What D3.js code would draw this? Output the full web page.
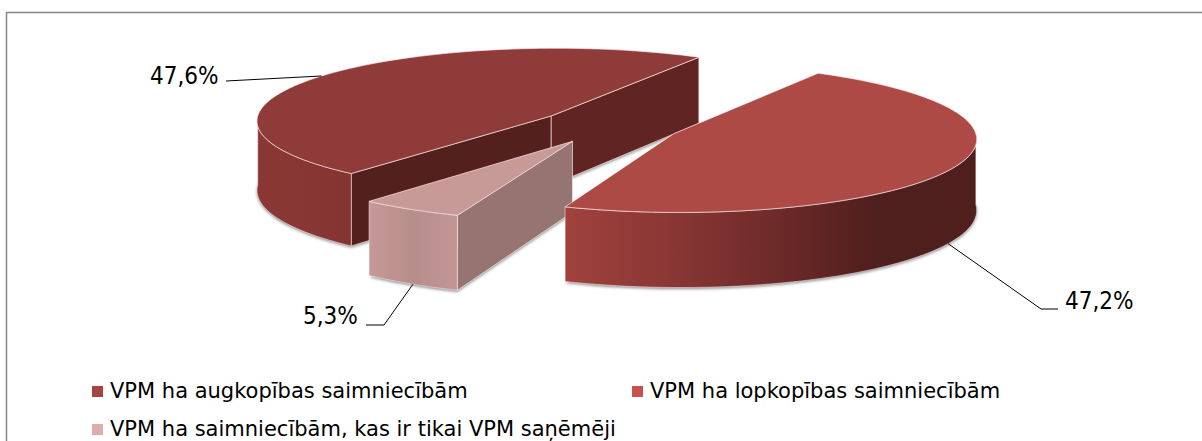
<!DOCTYPE html>
<html lang="lv">
<head>
<meta charset="utf-8">
<title>VPM ha</title>
<script src="https://cdn.jsdelivr.net/npm/d3@7"></script>
<style>
 body { margin: 0; background: #fff; }
 svg { display: block; }
 text { fill: #000; }
 .label { font-family: "DejaVu Sans Condensed", "DejaVu Sans", sans-serif; font-size: 24px; }
 .legend { font-family: "DejaVu Sans", sans-serif; font-size: 21px; }
</style>
</head>
<body>
<div id="graph"></div>
<script>
// Data
const categories = ["VPM ha augkopības saimniecībām", "VPM ha lopkopības saimniecībām", "VPM ha saimniecībām, kas ir tikai VPM saņēmēji"];
const values = [47.6, 47.2, 5.3];
const valueLabels = ["47,6%", "47,2%", "5,3%"];

// Colours of each slice
const topColors = ["#8f3b39", "#ae4a46", "#c79a98"];
const legendColors = ["#a54441", "#c9504c", "#e0abab"];
const wallStops = [["#8b3835", "#843431"], ["#a0423e", "#8a3735", "#6f2b2a", "#4f1f1d", "#4f1f1d"], ["#c59997", "#b78e8b", "#c29695"]];
const faceColors = [["#54201e", "#602522"], [null, null], ["#967471", null]];

const width = 1202, height = 441;

// 3D look of the pie: ellipse radii, perspective, extrusion, explode distance
const cx = 609, cy = 126, rx = 298, ry = 73, perspV = 0.06, perspU = 0.005, depth = 70, explode = 0.24;
const startDeg = 219.8;
const rad = Math.PI / 180;

function project(u, v, z) {
    const w = 1 + perspV * v - perspU * u;
    return [cx + rx * u / w, cy - ry * v / w + z * depth / w];
}

const pie = d3.pie().sort(null).startAngle(startDeg * rad).endAngle(startDeg * rad + 2 * Math.PI);
const slices = pie(values);
const line = d3.line();

function slicePoint(d, a, r, z) {
    const mid = (d.startAngle + d.endAngle) / 2;
    const u = explode * Math.sin(mid) + r * Math.sin(a);
    const v = explode * Math.cos(mid) + r * Math.cos(a);
    return project(u, v, z);
}

function arcPoints(d, a0, a1, z) {
    const n = Math.max(2, Math.ceil((a1 - a0) / (2 * rad)));
    return d3.range(n + 1).map(i => slicePoint(d, a0 + (a1 - a0) * i / n, 1, z));
}

const svg = d3.select("#graph").append("svg").attr("width", width).attr("height", height);
const defs = svg.append("defs");
defs.append("filter").attr("id", "soft").attr("x", "-10%").attr("y", "-10%").attr("width", "120%").attr("height", "120%")
    .append("feGaussianBlur").attr("stdDeviation", 1.6);

// Frame, runs off the right and bottom of the picture
svg.append("rect").attr("x", 6.5).attr("y", 12.5).attr("width", 1300).attr("height", 460)
    .attr("fill", "#fff").attr("stroke", "#868686").attr("stroke-width", 1.5);

// Slices, painted back to front
const edge = "rgba(255,235,235,0.65)";
[0, 2, 1].forEach(i => {
    const d = slices[i];
    const g = svg.append("g").attr("class", "slice");
    const apexTop = slicePoint(d, d.startAngle, 0, 0), apexLow = slicePoint(d, d.startAngle, 0, 1);
    const topPath = [apexTop].concat(arcPoints(d, d.startAngle, d.endAngle, 0));

    // soft shadow under the base
    const basePath = [apexLow].concat(arcPoints(d, d.startAngle, d.endAngle, 1));
    g.append("path").attr("d", line(basePath) + "Z").attr("transform", "translate(0,1.5)")
        .attr("fill", "#000").attr("fill-opacity", 0.45).attr("filter", "url(#soft)");

    // cut faces
    [d.startAngle, d.endAngle].forEach((a, k) => {
        if (!faceColors[i][k]) return;
        const face = [apexTop, slicePoint(d, a, 1, 0), slicePoint(d, a, 1, 1), apexLow];
        g.append("path").attr("d", line(face) + "Z").attr("fill", faceColors[i][k])
            .attr("stroke", edge).attr("stroke-width", 1);
    });

    // outer wall, only the part that faces the viewer (angles can run past a full turn)
    const turn = d.startAngle >= 2 * Math.PI ? 360 : 0;
    const w0 = Math.max(d.startAngle, (90 + turn) * rad), w1 = Math.min(d.endAngle, (270 + turn) * rad);
    if (w1 > w0) {
        const upper = arcPoints(d, w0, w1, 0), lower = arcPoints(d, w0, w1, 1);
        const xs = d3.extent(upper.concat(lower), p => p[0]);
        const id = "wall" + i;
        const grad = defs.append("linearGradient").attr("id", id).attr("gradientUnits", "userSpaceOnUse")
            .attr("x1", xs[0]).attr("x2", xs[1]).attr("y1", 0).attr("y2", 0);
        wallStops[i].forEach((c, k) => grad.append("stop").attr("offset", k / (wallStops[i].length - 1)).attr("stop-color", c));
        g.append("path").attr("d", line(upper.concat(lower.reverse())) + "Z").attr("fill", "url(#" + id + ")")
            .attr("stroke", edge).attr("stroke-width", 0.8);
    }

    // top
    g.append("path").attr("d", line(topPath) + "Z").attr("fill", topColors[i])
        .attr("stroke", edge).attr("stroke-width", 1);
});

// Leader lines and data labels
const leaderNudge = [0, 3, -0.5];
const labelPos = [[150, 84], [1065, 309], [303, 324]];
const leaderBend = [[[226, 81]], [[1058, 309], [1041, 309]], [[366, 325], [384, 325]]];
const onWall = [0, 1, 1];
slices.forEach((d, i) => {
    const a = (d.startAngle + d.endAngle) / 2 + leaderNudge[i] * rad;
    const pts = leaderBend[i].concat([slicePoint(d, a, 1, onWall[i])]);
    svg.append("path").attr("d", line(pts)).attr("fill", "none").attr("stroke", "#000").attr("stroke-width", 1);
    svg.append("text").attr("class", "label").attr("x", labelPos[i][0]).attr("y", labelPos[i][1]).text(valueLabels[i]);
});

// Legend
const legendPos = [[92, 398], [632, 398], [92, 436]];
categories.forEach((c, i) => {
    svg.append("rect").attr("x", legendPos[i][0]).attr("y", legendPos[i][1] - 12).attr("width", 11).attr("height", 11)
        .attr("fill", legendColors[i]);
    svg.append("text").attr("class", "legend").attr("x", legendPos[i][0] + 18).attr("y", legendPos[i][1]).text(c);
});
</script>
</body>
</html>
